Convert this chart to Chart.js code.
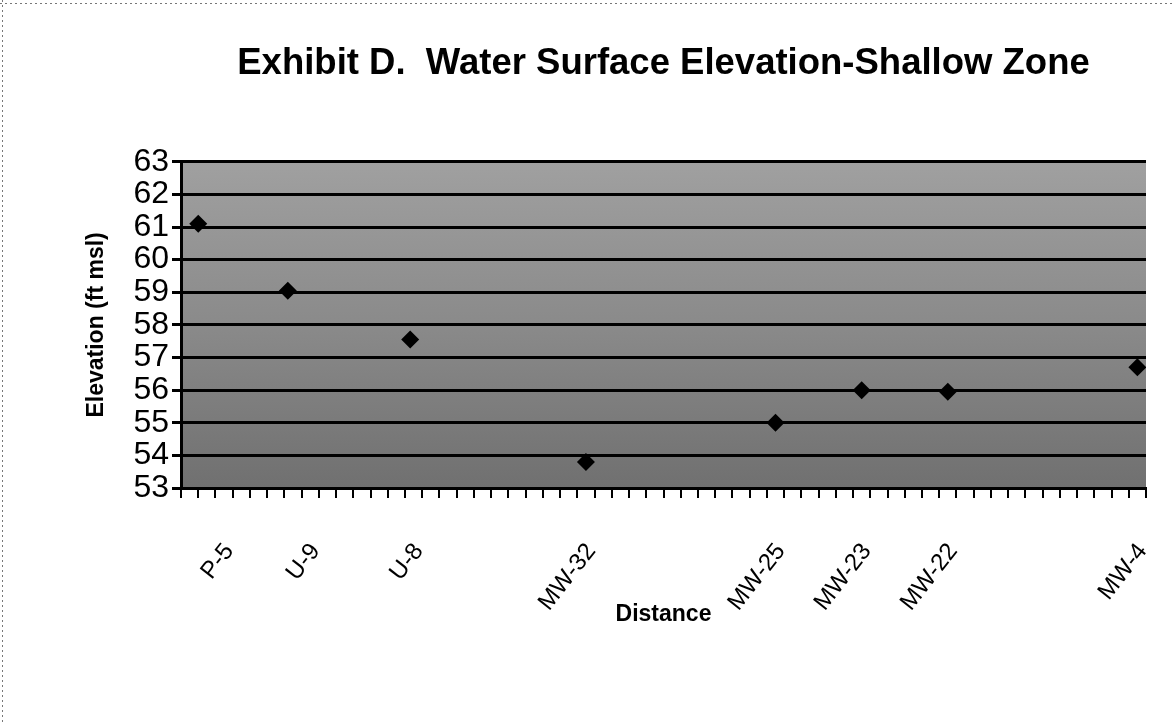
<!DOCTYPE html>
<html lang="en">
<head>
  <meta charset="UTF-8">
  <title>Exhibit D – Water Surface Elevation</title>
  <script src="https://cdn.jsdelivr.net/npm/chart.js"></script>
  <style>
    html, body { margin: 0; padding: 0; background: #fff; }
    #chart { display: block; }
  </style>
</head>
<body>
  <canvas id="chart" width="1172" height="724"></canvas>
  <script>
    // wells along the section, in order of distance
    const wellNames = ['P-5', 'U-9', 'U-8', 'MW-32', 'MW-25', 'MW-23', 'MW-22', 'MW-4'];
    // where each well name sits on the distance axis (axis runs 0..56)
    const labelSlots = [2.8, 7.8, 13.8, 23.8, 34.8, 39.8, 44.8, 55.8];
    // where each measured point sits on the distance axis
    const distances = [1.0, 6.2, 13.3, 23.5, 34.5, 39.5, 44.5, 55.5];
    const elevations = [61.1, 59.05, 57.55, 53.8, 55.0, 56.0, 55.95, 56.7];
    const slotCount = 56;
    const yTicks = [53, 54, 55, 56, 57, 58, 59, 60, 61, 62, 63];

    const points = distances.map(function(d, k) { return {x: d, y: elevations[k]}; });

    const FONT = "'Liberation Sans', Arial, sans-serif";

    // gray plot area and the scan border
    const plotBg = {
      id: 'plotBg',
      beforeDraw(chart) {
        const {ctx, chartArea: a} = chart;
        ctx.save();
        const g = ctx.createLinearGradient(0, a.top, 0, a.bottom);
        g.addColorStop(0, '#a0a0a0');
        g.addColorStop(0.5, '#8a8a8a');
        g.addColorStop(1, '#707070');
        ctx.fillStyle = g;
        ctx.fillRect(a.left, a.top, a.right - a.left, a.bottom - a.top);
        ctx.strokeStyle = '#777';
        ctx.lineWidth = 1;
        ctx.setLineDash([2, 3]);
        ctx.beginPath();
        ctx.moveTo(2.5, 0); ctx.lineTo(2.5, 724);
        ctx.moveTo(0, 3.5); ctx.lineTo(1172, 3.5);
        ctx.stroke();
        ctx.restore();
      }
    };

    function isLabelTick(v) { return labelSlots.indexOf(v) !== -1; }

    new Chart(document.getElementById('chart'), {
      type: 'scatter',
      data: {
        datasets: [{
          data: points,
          pointStyle: 'rectRot',
          pointRadius: 9,
          pointHoverRadius: 9,
          backgroundColor: '#000',
          borderColor: '#000',
          borderWidth: 0
        }]
      },
      options: {
        responsive: false,
        devicePixelRatio: 1,
        animation: false,
        layout: { padding: { left: 0, right: 26, top: 0, bottom: 0 } },
        plugins: {
          legend: { display: false },
          tooltip: { enabled: false },
          title: {
            display: true,
            fullSize: false,
            text: 'Exhibit D.  Water Surface Elevation-Shallow Zone',
            color: '#000',
            font: { family: FONT, size: 36.5, weight: 'bold' },
            padding: { top: 42, bottom: 76 }
          }
        },
        scales: {
          x: {
            type: 'linear',
            min: 0,
            max: slotCount,
            afterFit(scale) {
              scale.height = 236;
              scale.paddingLeft = 0;
              scale.paddingRight = 0;
            },
            afterBuildTicks(scale) {
              const t = [];
              for (let i = 0; i <= slotCount; i++) t.push({value: i});
              labelSlots.forEach(function(v) { t.push({value: v}); });
              t.sort(function(a, b) { return a.value - b.value; });
              scale.ticks = t;
            },
            grid: {
              drawOnChartArea: false,
              drawTicks: true,
              tickLength: 10,
              color(ctx) { return ctx.tick && isLabelTick(ctx.tick.value) ? 'rgba(0,0,0,0)' : '#000'; },
              lineWidth: 2
            },
            border: { color: '#000', width: 3 },
            ticks: {
              autoSkip: false,
              minRotation: 52,
              maxRotation: 52,
              color: '#000',
              padding: 40,
              font: { family: FONT, size: 24 },
              callback(value) {
                const k = labelSlots.indexOf(value);
                return k === -1 ? '' : wellNames[k];
              }
            },
            title: {
              display: true,
              text: 'Distance',
              color: '#000',
              font: { family: FONT, size: 23, weight: 'bold' },
              padding: { top: 0, bottom: 96 }
            }
          },
          y: {
            min: 53,
            max: 63,
            afterFit(scale) { scale.width = 181; },
            afterBuildTicks(scale) { scale.ticks = yTicks.map(function(v) { return {value: v}; }); },
            grid: {
              color: '#000',
              lineWidth: 3,
              tickLength: 9
            },
            border: { color: '#000', width: 3 },
            ticks: {
              autoSkip: false,
              color: '#000',
              padding: 3,
              font: { family: FONT, size: 32 }
            },
            title: {
              display: true,
              text: 'Elevation (ft msl)',
              color: '#000',
              font: { family: FONT, size: 23, weight: 'bold' },
              padding: { top: 83, bottom: 0 }
            }
          }
        }
      },
      plugins: [plotBg]
    });
  </script>
</body>
</html>
